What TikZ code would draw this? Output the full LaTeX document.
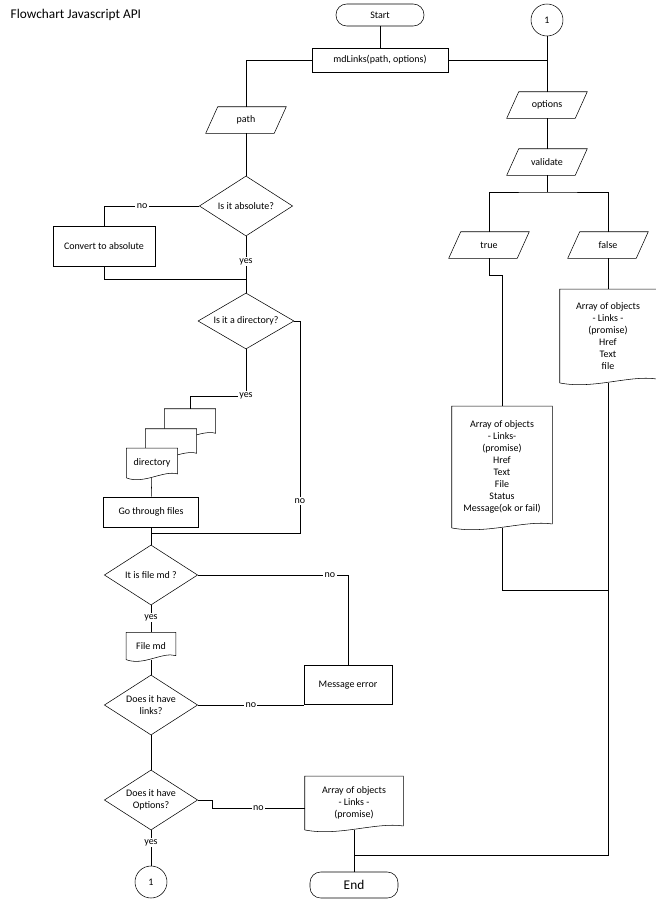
\documentclass[tikz,border=0pt]{standalone}
\usepackage{fontspec}
\setmainfont{Carlito}
\usetikzlibrary{shapes.geometric,calc,backgrounds}
\newcommand\docshp[1]{\begin{pgfonlayer}{background}\draw[fill=white] (#1.south west) -- (#1.north west) -- (#1.north east) -- ([yshift=3pt]#1.south east) .. controls ($(#1.south west)!0.72!(#1.south east)+(0,6pt)$) and ($(#1.south west)!0.35!(#1.south east)+(0,-5pt)$) .. (#1.south west);\end{pgfonlayer}}
\newcommand\parashp[1]{\draw ([xshift=9pt]#1.north west) -- (#1.north east) -- ([xshift=-9pt]#1.south east) -- (#1.south west) -- cycle;}
\begin{document}
\begin{tikzpicture}[x=0.75pt,y=-0.75pt,font=\fontsize{7.5}{9}\selectfont,
 box/.style={draw,minimum width=#1,inner sep=1pt,align=center},
 term/.style={draw,rounded corners=8pt,minimum width=66pt,minimum height=#1},
 para/.style={minimum width=60pt,minimum height=19.5pt,inner sep=1pt},
 dia/.style={draw,diamond,aspect=1.4,inner sep=0pt,minimum width=70pt,minimum height=45pt,align=center},
 doc/.style={inner sep=1pt,align=center,anchor=center},
 lab/.style={fill=white,inner sep=1pt},
 circ/.style={draw,circle,minimum size=24pt,inner sep=0pt}]
\useasboundingbox (0,0) rectangle (656,903);
\node[anchor=west,font=\fontsize{10}{12}\selectfont] (title) at (6,15) {Flowchart Javascript API};
\node[term=16.5pt] (start) at (380,15) {Start};
\node[box=102pt,minimum height=18pt] (md) at (380,60) {mdLinks(path, options)};
\node[circ] (c1) at (547,20) {1};
\node[para] (opt) at (547,105) {options}; \parashp{opt}
\node[para] (path) at (246,120) {path}; \parashp{path}
\node[dia] (abs) at (246,206) {Is it absolute?};
\node[box=76.5pt,minimum height=30pt] (conv) at (104,246) {Convert to absolute};
\node[dia,minimum width=72pt,minimum height=42pt] (dir) at (246,321) {Is it a directory?};
\node[doc,minimum width=38pt,minimum height=21pt] (d3) at (190,423) {}; \docshp{d3}
\node[doc,minimum width=38pt,minimum height=21pt] (d2) at (171,443) {}; \docshp{d2}
\node[doc,minimum width=38pt,minimum height=22pt] (d1) at (152,463) {directory}; \docshp{d1}
\node[box=71pt,minimum height=22.5pt] (go) at (151,512) {Go through files};
\node[dia] (fq) at (151,575) {It is file md ?};
\node[doc,minimum width=37pt,minimum height=20pt] (fmd) at (151,646) {File md}; \docshp{fmd}
\node[dia] (lk) at (151,705) {Does it have\\links?};
\node[box=66pt,minimum height=29pt] (msg) at (348,685) {Message error};
\node[dia] (op) at (151,800) {Does it have\\Options?};
\node[doc,minimum width=73.5pt,minimum height=40pt] (arr) at (354,803) {Array of objects\\- Links -\\(promise)}; \docshp{arr}
\node[circ] (c2) at (151,882) {1};
\node[term=19.5pt] (end) at (354,885) {\fontsize{10}{12}\selectfont End};
\node[para] (val) at (547,162) {validate}; \parashp{val}
\node[para] (tru) at (489,245) {true}; \parashp{tru}
\node[para] (fal) at (608,245) {false}; \parashp{fal}
\node[doc,minimum width=75pt,minimum height=91pt] (arr2) at (502,467) {Array of objects\\- Links-\\(promise)\\Href\\Text\\File\\Status\\Message(ok or fail)}; \docshp{arr2}
\node[doc,minimum width=72pt,minimum height=70pt] (arr3) at (608,336) {Array of objects\\- Links -\\(promise)\\Href\\Text\\file}; \docshp{arr3}
% coordinates
\coordinate (j1) at (246,279);
\coordinate (j2) at (151,533);
\coordinate (j3) at (300,321);
\coordinate (j4) at (190,396);
\coordinate (j5) at (212,800);
\coordinate (jv) at (547,192);
\coordinate (jt) at (502,275);
\coordinate (jr) at (608,590);
\coordinate (jb) at (608,855);
% connectors
\draw (start) -- (md);
\draw (md.west) -| (path.north);
\draw (md.east) -| (opt.north);
\draw (c1) -- (opt);
\draw (path) -- (abs);
\draw (abs.west) -- node[lab,pos=0.6]{no} (abs.west-|conv) -- (conv.north);
\draw (abs) -- node[lab,pos=0.45]{yes} (dir);
\draw (conv.south) |- (j1);
\draw (dir.east) -- (j3) -- node[lab,pos=0.85]{no} (j3|-j2) -- (j2);
\draw (dir.south) -- node[lab,pos=1]{yes} (dir.south|-j4) -- (j4) -- (d3.north);
\draw (d1) -- (go);
\draw (go) -- (fq);
\draw (fq.east) -- node[lab,pos=0.88]{no} (fq.east-|msg) -- (msg.north);
\draw (fq) -- node[lab,pos=0.45]{yes} (fmd);
\draw (fmd) -- (lk);
\draw (lk.east) -- node[lab]{no} (msg.west|-lk.east);
\draw (lk) -- (op);
\draw (op.east) -- (j5) |- node[lab,pos=0.75]{no} ([yshift=-4pt]arr.west);
\draw (op) -- node[lab,pos=0.35]{yes} (c2);
\draw (arr) -- (end);
\draw (opt) -- (val);
\draw (val.south) -- (jv);
\draw (tru.north) |- (jv) -| (fal.north);
\draw (tru.south) |- (jt) -- (arr2.north);
\draw (arr2.south) |- (jr);
\draw (fal) -- (arr3);
\draw (arr3.south) -- (jb) -- (jb-|end.north);
\end{tikzpicture}
\end{document}
